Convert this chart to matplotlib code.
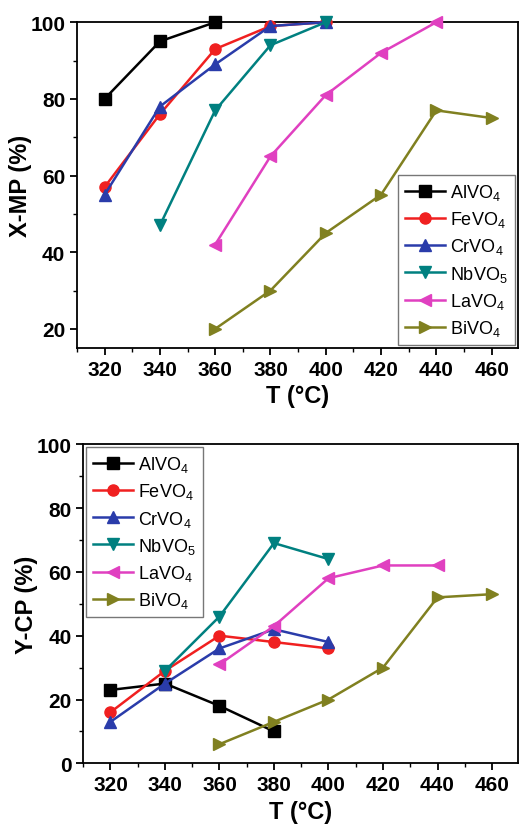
import matplotlib
matplotlib.use("Agg")
from matplotlib import pyplot as plt
from matplotlib.ticker import MultipleLocator

plt.rcParams['font.family'] = ['Liberation Sans', 'DejaVu Sans']
plt.rcParams['mathtext.fontset'] = 'custom'
plt.rcParams['mathtext.rm'] = 'Liberation Sans'
plt.rcParams['mathtext.default'] = 'regular'

# catalyst names
names = ['AlVO$_4$', 'FeVO$_4$', 'CrVO$_4$', 'NbVO$_5$', 'LaVO$_4$', 'BiVO$_4$']

# X-MP conversion (%) vs temperature
xmp_T = [
    [320, 340, 360],
    [320, 340, 360, 380, 400],
    [320, 340, 360, 380, 400],
    [340, 360, 380, 400],
    [360, 380, 400, 420, 440],
    [360, 380, 400, 420, 440, 460],
]
xmp_val = [
    [80, 95, 100],
    [57, 76, 93, 99, 100],
    [55, 78, 89, 99, 100],
    [47, 77, 94, 100],
    [42, 65, 81, 92, 100],
    [20, 30, 45, 55, 77, 75],
]

# Y-CP yield (%) vs temperature
ycp_T = [
    [320, 340, 360, 380],
    [320, 340, 360, 380, 400],
    [320, 340, 360, 380, 400],
    [340, 360, 380, 400],
    [360, 380, 400, 420, 440],
    [360, 380, 400, 420, 440, 460],
]
ycp_val = [
    [23, 25, 18, 10],
    [16, 29, 40, 38, 36],
    [13, 25, 36, 42, 38],
    [29, 46, 69, 64],
    [31, 43, 58, 62, 62],
    [6, 13, 20, 30, 52, 53],
]

colors = ['black', '#f02020', '#2a3caa', '#008080', '#e040c0', '#808020']
markers = ['s', 'o', '^', 'v', '<', '>']

fig = plt.figure(figsize=(5.2, 8.29), dpi=100)

ax1 = fig.add_axes([0.148, 0.579, 0.848, 0.393])
ax2 = fig.add_axes([0.160, 0.078, 0.836, 0.385])


def draw(ax, T, vals, ylabel, ylim, yticks, loc, lbbox):
    for i in range(len(names)):
        ax.plot(T[i], vals[i], marker=markers[i], color=colors[i], lw=1.8,
                markersize=8, label=names[i], clip_on=False, zorder=3)
    ax.set_xlim(310, 469.5)
    ax.set_ylim(*ylim)
    ax.set_xticks(range(320, 461, 20))
    ax.set_yticks(yticks)
    ax.xaxis.set_minor_locator(MultipleLocator(10))
    ax.yaxis.set_minor_locator(MultipleLocator(10))
    ax.tick_params(which='major', direction='out', length=5, width=1.3, labelsize=15)
    ax.tick_params(which='minor', direction='out', length=3, width=1.0)
    for lab in ax.get_xticklabels() + ax.get_yticklabels():
        lab.set_fontweight('bold')
    for sp in ax.spines.values():
        sp.set_linewidth(1.3)
    ax.set_xlabel('T (°C)', fontsize=17, fontweight='bold', labelpad=4)
    ax.set_ylabel(ylabel, fontsize=17, fontweight='bold', labelpad=-1)
    leg = ax.legend(loc=loc, bbox_to_anchor=lbbox, fontsize=13, frameon=True,
                    fancybox=False, edgecolor='#555555', handlelength=2.2,
                    handletextpad=0.3, borderpad=0.4, labelspacing=0.4,
                    borderaxespad=0.15)
    leg.get_frame().set_linewidth(1.0)


draw(ax1, xmp_T, xmp_val, 'X-MP (%)', (15, 100), [20, 40, 60, 80, 100],
     'lower right', (1.0, 0.0))
draw(ax2, ycp_T, ycp_val, 'Y-CP (%)', (0, 100), [0, 20, 40, 60, 80, 100],
     'upper left', (0.0, 1.0))

fig.savefig('out.png', dpi=100)
